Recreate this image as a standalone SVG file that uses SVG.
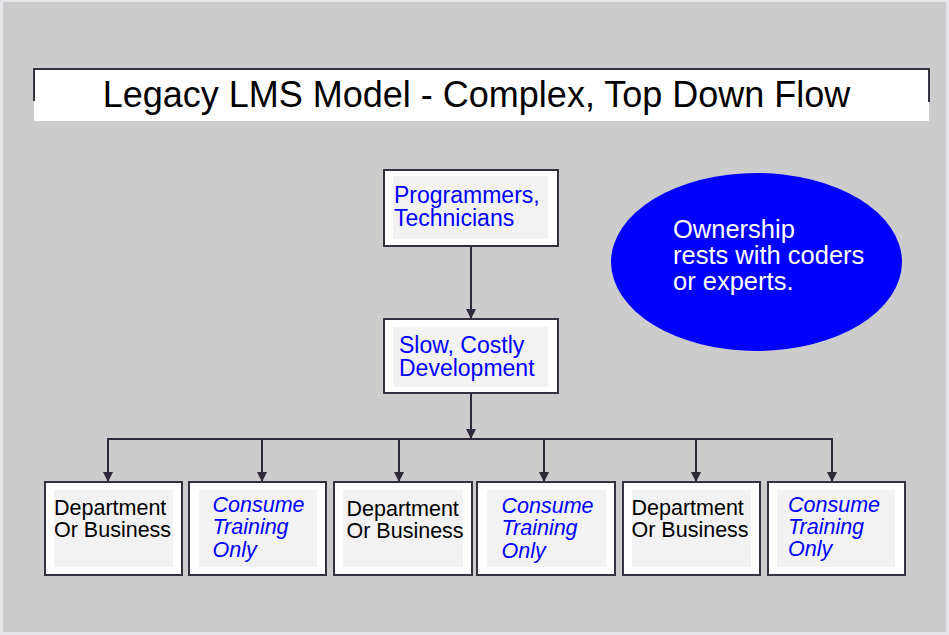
<svg xmlns="http://www.w3.org/2000/svg" width="949" height="635" viewBox="0 0 949 635">
<style>
.box{fill:#ffffff;stroke:#36303f;stroke-width:2}
.inner{fill:#f2f2f2}
.conn{stroke:#2e2838;stroke-width:2;fill:none}
.t{font-family:"Liberation Sans",Arial,sans-serif}
.blue{fill:#0000ff}
.blk{fill:#000000}
.it{font-style:italic}
</style>
<defs>
<marker id="ah" viewBox="0 0 10 10" refX="10" refY="5" markerWidth="10" markerHeight="10" markerUnits="userSpaceOnUse" orient="auto">
<path d="M0,0 L10,5 L0,10 Z" fill="#2e2838"/>
</marker>
</defs>
<rect x="0" y="0" width="949" height="635" fill="#e6e6ea"/>
<rect x="3" y="2" width="943" height="630" fill="#cccccc"/>

<g id="title">
<rect x="34" y="68" width="895" height="53" fill="#ffffff"/>
<path d="M34,101 V69 H929 V102" fill="none" stroke="#36303f" stroke-width="2"/>
<text class="t blk" x="476.5" y="107" font-size="36" text-anchor="middle">Legacy LMS Model - Complex, Top Down Flow</text>
</g>

<g id="connectors">
<line class="conn" x1="471" y1="246" x2="471" y2="319" marker-end="url(#ah)"/>
<line class="conn" x1="471" y1="393" x2="471" y2="439" marker-end="url(#ah)"/>
<line class="conn" x1="107" y1="439" x2="833" y2="439"/>
<line class="conn" x1="108" y1="439" x2="108" y2="482" marker-end="url(#ah)"/>
<line class="conn" x1="262" y1="439" x2="262" y2="482" marker-end="url(#ah)"/>
<line class="conn" x1="399" y1="439" x2="399" y2="482" marker-end="url(#ah)"/>
<line class="conn" x1="544" y1="439" x2="544" y2="482" marker-end="url(#ah)"/>
<line class="conn" x1="696" y1="439" x2="696" y2="482" marker-end="url(#ah)"/>
<line class="conn" x1="832" y1="439" x2="832" y2="482" marker-end="url(#ah)"/>
</g>

<g id="programmers">
<rect class="box" x="384" y="170" width="174" height="76"/>
<rect class="inner" x="393" y="176" width="155" height="63"/>
<text class="t blue" x="394" y="202.5" font-size="23">Programmers,</text>
<text class="t blue" x="394" y="226" font-size="23">Technicians</text>
</g>

<g id="development">
<rect class="box" x="384" y="319" width="174" height="74"/>
<rect class="inner" x="393" y="327" width="155" height="60"/>
<text class="t blue" x="399" y="352.5" font-size="23">Slow, Costly</text>
<text class="t blue" x="399" y="376" font-size="23">Development</text>
</g>

<g id="ownership">
<ellipse cx="756.5" cy="262" rx="145.5" ry="89" fill="#0000ff"/>
<text class="t" fill="#ffffff" x="673" y="238" font-size="25.5">Ownership</text>
<text class="t" fill="#ffffff" x="673" y="263.5" font-size="25.5">rests with coders</text>
<text class="t" fill="#ffffff" x="673" y="289.5" font-size="25.5">or experts.</text>
</g>

<g id="dept1">
<rect class="box" x="45" y="482" width="137" height="93"/>
<rect class="inner" x="54" y="490" width="119" height="77"/>
<text class="t blk" x="54" y="515" font-size="21.5">Department</text>
<text class="t blk" x="54" y="537" font-size="21.5">Or Business</text>
</g>

<g id="consume1">
<rect class="box" x="189" y="482" width="137" height="93"/>
<rect class="inner" x="199" y="490" width="118" height="77"/>
<text class="t blue it" x="212.5" y="512" font-size="21.5">Consume</text>
<text class="t blue it" x="212.5" y="534" font-size="21.5">Training</text>
<text class="t blue it" x="212.5" y="556.5" font-size="21.5">Only</text>
</g>

<g id="dept2">
<rect class="box" x="334" y="482" width="138" height="93"/>
<rect class="inner" x="343" y="490" width="120" height="77"/>
<text class="t blk" x="346.5" y="515.5" font-size="21.5">Department</text>
<text class="t blk" x="346.5" y="537.5" font-size="21.5">Or Business</text>
</g>

<g id="consume2">
<rect class="box" x="477" y="482" width="138" height="93"/>
<rect class="inner" x="487" y="490" width="119" height="77"/>
<text class="t blue it" x="501.5" y="513" font-size="21.5">Consume</text>
<text class="t blue it" x="501.5" y="535" font-size="21.5">Training</text>
<text class="t blue it" x="501.5" y="557.5" font-size="21.5">Only</text>
</g>

<g id="dept3">
<rect class="box" x="623" y="482" width="137" height="93"/>
<rect class="inner" x="632" y="490" width="119" height="77"/>
<text class="t blk" x="631.5" y="515" font-size="21.5">Department</text>
<text class="t blk" x="631.5" y="537" font-size="21.5">Or Business</text>
</g>

<g id="consume3">
<rect class="box" x="768" y="482" width="137" height="93"/>
<rect class="inner" x="777" y="490" width="118" height="77"/>
<text class="t blue it" x="788" y="511.5" font-size="21.5">Consume</text>
<text class="t blue it" x="788" y="533.5" font-size="21.5">Training</text>
<text class="t blue it" x="788" y="556" font-size="21.5">Only</text>
</g>
</svg>
